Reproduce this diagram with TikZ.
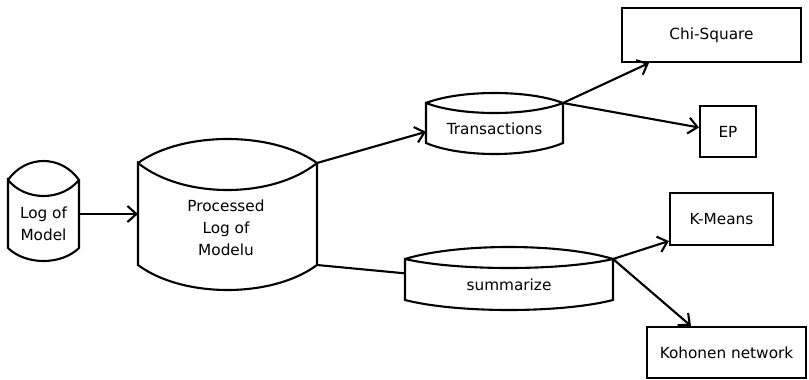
\documentclass[tikz,border=0pt]{standalone}
\usepackage{fontspec}
\setmainfont{DejaVu Sans}
\usetikzlibrary{arrows.meta,calc}

\tikzset{
  outline/.style={line width=2.1pt, line join=miter},
  label text/.style={font=\fontsize{15.3}{22}\selectfont, align=center, inner sep=0pt},
  box/.style={draw, line width=2.1pt, inner sep=0pt, label text},
  link/.style={line width=2.1pt},
  flow/.style={link, -{Straight Barb[length=9pt,width=16pt]}},
}

% Drum-shaped store: name, left x, right x, lid top, wall top, lid bottom, wall bottom, base bottom
\newcommand\drum[8]{%
  \coordinate (#1-nw) at (#2,#5);
  \coordinate (#1-ne) at (#3,#5);
  \coordinate (#1-sw) at (#2,#7);
  \coordinate (#1-se) at (#3,#7);
  \coordinate (#1-w) at ($(#1-nw)!0.5!(#1-sw)$);
  \coordinate (#1-e) at ($(#1-ne)!0.5!(#1-se)$);
  \draw[outline] (#1-nw)
      .. controls ({#2+(#3-#2)/4},{#5+4/3*(#4-#5)}) and ({#3-(#3-#2)/4},{#5+4/3*(#4-#5)}) .. (#1-ne)
      .. controls ({#3-(#3-#2)/4},{#5+4/3*(#6-#5)}) and ({#2+(#3-#2)/4},{#5+4/3*(#6-#5)}) .. (#1-nw)
      -- (#1-sw)
      .. controls ({#2+(#3-#2)/4},{#7+4/3*(#8-#7)}) and ({#3-(#3-#2)/4},{#7+4/3*(#8-#7)}) .. (#1-se)
      -- (#1-ne);
}

\begin{document}
\begin{tikzpicture}[x=1pt, y=-1pt]
  \useasboundingbox (0,0) rectangle (809,380);

  % stores
  \drum{logm}{8}{79}{161}{180}{196}{248}{261}
  \drum{proc}{138}{317}{139}{163}{190}{265}{290}
  \drum{trans}{426}{563}{93}{103}{113}{143}{154}
  \drum{summ}{405}{613}{247}{259}{268}{300}{310}

  \node[label text] (logm) at (43.5,224) {Log of\\Model};
  \node[label text] (proc) at (226,228) {Processed\\Log of\\Modelu};
  \node[label text] (trans) at (494.5,129) {Transactions};
  \node[label text] (summ) at (509,285) {summarize};

  % methods
  \node[box, minimum width=179pt, minimum height=54pt] (chi) at (711.5,35) {Chi-Square};
  \node[box, minimum width=56pt, minimum height=51pt] (ep) at (728,131.5) {EP};
  \node[box, minimum width=103pt, minimum height=52pt] (kmeans) at (721.5,219) {K-Means};
  \node[box, minimum width=159pt, minimum height=51pt] (koh) at (726.5,352.5) {Kohonen network};

  % connectors
  \draw[flow] (logm-e) -- (proc-w);
  \draw[flow] (proc-ne) -- ($(trans-nw)!0.72!(trans-sw)$);
  \draw[link] (proc-se) -- ($(summ-nw)!0.35!(summ-sw)$);
  \draw[flow] (trans-ne) -- ($(chi.south west)+(28,0)$);
  \draw[flow] (trans-ne) -- ($(ep.west)+(0,-4)$);
  \draw[flow] (summ-ne) -- ($(kmeans.south west)+(0,-5)$);
  \draw[flow] (summ-ne) -- ($(koh.north west)+(45,0)$);
\end{tikzpicture}
\end{document}
